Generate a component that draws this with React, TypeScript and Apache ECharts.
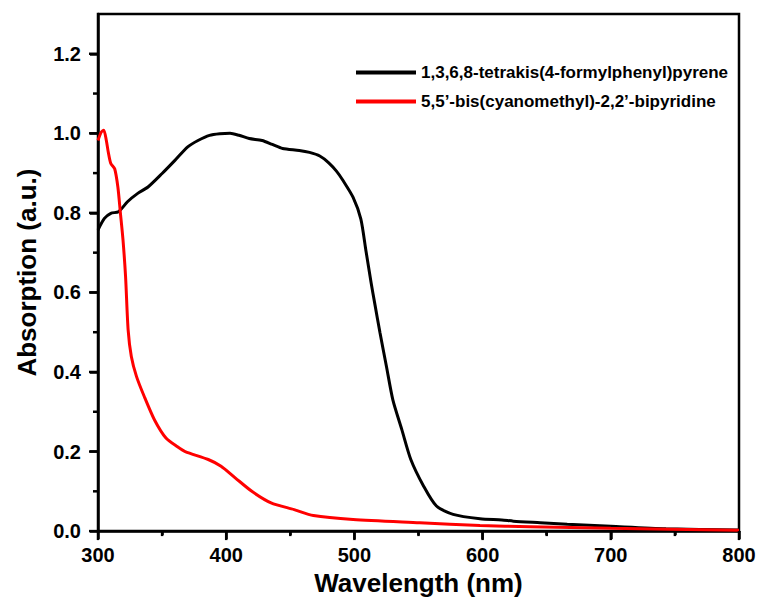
import React, { useEffect, useRef } from "react";
import * as echarts from "echarts";

const seriesNames = [
  "1,3,6,8-tetrakis(4-formylphenyl)pyrene",
  "5,5\u2019-bis(cyanomethyl)-2,2\u2019-bipyridine",
];

const pyreneWavelength = [
  300, 305, 310, 316, 323, 331, 339, 350, 360, 370, 378, 387, 395, 403, 410, 418,
  428, 436, 444, 457, 465, 473, 480, 486, 491, 499, 505, 509, 513, 516, 520, 525,
  530, 537, 544, 554, 564, 577, 598, 615, 624, 645, 666, 700, 743, 800,
];
const pyreneAbs = [
  0.757, 0.786, 0.799, 0.803, 0.828, 0.849, 0.865, 0.899, 0.932, 0.966, 0.982,
  0.995, 0.999, 1.0, 0.995, 0.987, 0.982, 0.972, 0.962, 0.957, 0.952, 0.943,
  0.926, 0.905, 0.882, 0.839, 0.785, 0.705, 0.625, 0.57, 0.498, 0.414, 0.33,
  0.255, 0.18, 0.113, 0.063, 0.042, 0.031, 0.028, 0.025, 0.021, 0.017, 0.012,
  0.006, 0.0025,
];

const bipyWavelength = [
  300, 302.5, 304.5, 306.5, 308, 310, 313, 315.5, 317.5, 319.5, 321.5, 323.5, 326,
  330, 336, 344, 353, 362, 368, 386, 396, 407, 420, 435, 453, 468, 499, 551, 598,
  637, 700, 800,
];
const bipyAbs = [
  0.982, 1.003, 1.008, 0.982, 0.953, 0.924, 0.911, 0.865, 0.799, 0.732, 0.64,
  0.506, 0.439, 0.389, 0.339, 0.28, 0.234, 0.212, 0.2, 0.18, 0.163, 0.134, 0.1,
  0.071, 0.054, 0.039, 0.029, 0.021, 0.014, 0.011, 0.007, 0.002,
];

const xMajorTicks = [300, 400, 500, 600, 700, 800];
const xMinorTicks = [350, 450, 550, 650, 750];
const yMajorTicks = [0, 0.2, 0.4, 0.6, 0.8, 1.0, 1.2];
const yMinorTicks = [0.1, 0.3, 0.5, 0.7, 0.9, 1.1];

const FONT = "'Liberation Sans', Arial, sans-serif";
const MAJOR_LEN = 8;
const MINOR_LEN = 4;

export default function App() {
  const ref = useRef<HTMLDivElement>(null);

  useEffect(() => {
    if (!ref.current) return;
    const chart = echarts.init(ref.current, undefined, { renderer: "svg" });
    const pyrene = pyreneWavelength.map((w, i) => [w, pyreneAbs[i]]);
    const bipy = bipyWavelength.map((w, i) => [w, bipyAbs[i]]);

    const xTickData = [
      ...xMajorTicks.map((v) => [v, 0, MAJOR_LEN]),
      ...xMinorTicks.map((v) => [v, 0, MINOR_LEN]),
    ];
    const yTickData = [
      ...yMajorTicks.map((v) => [300, v, MAJOR_LEN]),
      ...yMinorTicks.map((v) => [300, v, MINOR_LEN]),
    ];

    chart.setOption({
      animation: false,
      backgroundColor: "#ffffff",
      textStyle: { fontFamily: FONT },
      grid: {
        left: 98,
        right: 22,
        top: 14,
        bottom: 69,
        show: true,
        borderColor: "#000",
        borderWidth: 2.5,
        backgroundColor: "transparent",
      },
      legend: {
        orient: "vertical",
        left: 356,
        top: 64,
        padding: 0,
        itemWidth: 60,
        itemHeight: 4,
        itemGap: 12,
        icon: "rect",
        textStyle: {
          fontFamily: FONT,
          fontSize: 17,
          fontWeight: "bold",
          color: "#000",
          lineHeight: 17,
        },
        data: seriesNames,
      },
      xAxis: {
        type: "value",
        min: 300,
        max: 800,
        interval: 100,
        name: "Wavelength (nm)",
        nameLocation: "middle",
        nameGap: 33,
        nameTextStyle: {
          fontFamily: FONT,
          fontSize: 26,
          fontWeight: "bold",
          color: "#000",
        },
        axisLine: { show: true, onZero: false, lineStyle: { color: "#000", width: 2.5 } },
        axisTick: { show: true, inside: false, length: MAJOR_LEN, lineStyle: { color: "#000", width: 2.5 } },
        minorTick: {
          show: true,
          splitNumber: 2,
          length: MINOR_LEN,
          lineStyle: { color: "#000", width: 2.5 },
        },
        axisLabel: {
          margin: 14,
          fontFamily: FONT,
          fontSize: 20,
          fontWeight: "bold",
          color: "#000",
        },
        splitLine: { show: false },
      },
      yAxis: {
        type: "value",
        min: 0,
        max: 1.3,
        position: "left",
        name: "Absorption (a.u.)",
        nameLocation: "middle",
        nameGap: 58,
        nameTextStyle: {
          fontFamily: FONT,
          fontSize: 26,
          fontWeight: "bold",
          color: "#000",
        },
        axisLine: { show: true, onZero: false, lineStyle: { color: "#000", width: 2.5 } },
        axisTick: {
          show: true,
          inside: false,
          length: MAJOR_LEN,
          customValues: yMajorTicks,
          lineStyle: { color: "#000", width: 2.5 },
        },
        axisLabel: {
          margin: 17,
          customValues: yMajorTicks,
          formatter: (v: number) => v.toFixed(1),
          fontFamily: FONT,
          fontSize: 20,
          fontWeight: "bold",
          color: "#000",
        },
        splitLine: { show: false },
      },
      series: [
        {
          name: seriesNames[0],
          type: "line",
          data: pyrene,
          showSymbol: false,
          smooth: 0.25,
          lineStyle: { color: "#000000", width: 3 },
          itemStyle: { color: "#000000" },
          z: 3,
        },
        {
          name: seriesNames[1],
          type: "line",
          data: bipy,
          showSymbol: false,
          smooth: 0.25,
          lineStyle: { color: "#ff0000", width: 3 },
          itemStyle: { color: "#ff0000" },
          z: 4,
        },
        {
          name: "xTicks",
          type: "custom",
          data: xTickData,
          clip: false,
          silent: true,
          z: 10,
          renderItem: (_params: any, api: any) => {
            const p = api.coord([api.value(0), api.value(1)]);
            const len = api.value(2);
            return {
              type: "line",
              shape: { x1: p[0], y1: p[1], x2: p[0], y2: p[1] + len + 1 },
              style: { stroke: "#000", lineWidth: 2.5 },
            };
          },
        },
        {
          name: "yTicks",
          type: "custom",
          data: yTickData,
          clip: false,
          silent: true,
          z: 10,
          renderItem: (_params: any, api: any) => {
            const p = api.coord([api.value(0), api.value(1)]);
            const len = api.value(2);
            return {
              type: "line",
              shape: { x1: p[0], y1: p[1], x2: p[0] - len - 1, y2: p[1] },
              style: { stroke: "#000", lineWidth: 2.5 },
            };
          },
        },
      ],
    });

    return () => chart.dispose();
  }, []);

  return (
    <div
      ref={ref}
      style={{ position: "fixed", left: 0, top: 0, width: 761, height: 601 }}
    />
  );
}
